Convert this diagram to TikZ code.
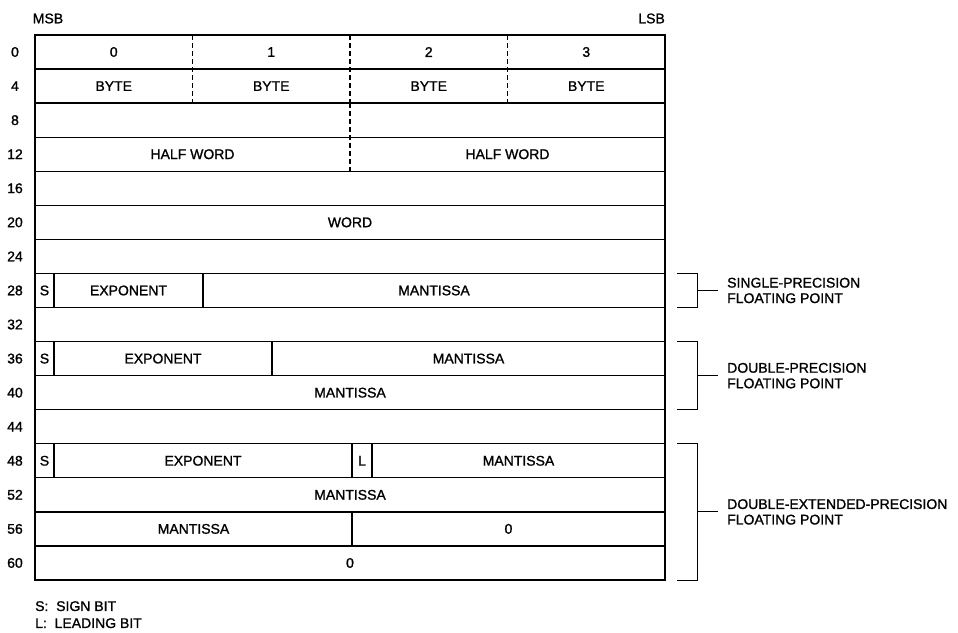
\documentclass[tikz,border=0pt]{standalone}
\usepackage{fontspec}
\setmainfont[FakeBold=1.2]{Liberation Sans}
\usetikzlibrary{calc}
\begin{document}
\begin{tikzpicture}[x=1pt,y=-1pt,
  row/.style={draw, line width=1.3pt, minimum width=630pt, minimum height=34.0625pt, anchor=north west, inner sep=0pt, outer sep=0pt},
  lbl/.style={font=\fontsize{14}{16}\selectfont, inner sep=0pt},
  note/.style={font=\fontsize{14}{15.5}\selectfont, inner sep=0pt, align=left, anchor=west},
  div/.style={line width=1.3pt},
  ddiv/.style={line width=1.3pt, dash pattern=on 5pt off 3pt},
  brace/.style={line width=1pt}]
\useasboundingbox (0,0) rectangle (958,632);
\def\rh{34.0625}
% rows
\foreach \i in {0,...,15} {
  \node[row] (r\i) at (35,{35+\i*\rh}) {};
  \pgfmathtruncatemacro\v{4*\i}
  \node[lbl] (n\i) at (15,{35+(\i+0.5)*\rh}) {\v};
}
\node[lbl] (msb) at (48,18.5) {MSB};
\node[lbl,anchor=east] (lsb) at (665,18.5) {LSB};
% dashed dividers
\foreach \x in {192.5,350,507.5} \draw[ddiv] (\x,{35}) -- (\x,{35+2*\rh});
\draw[ddiv] (350,{35+2*\rh}) -- (350,{35+4*\rh});
% solid dividers
\foreach \x/\r in {54/7,203/7,54/9,272/9,54/12,352/12,372/12,352/14}
  \draw[div] (\x,{35+\r*\rh}) -- (\x,{35+(\r+1)*\rh});
% texts
\foreach \x/\t [count=\k] in {113.75/0,271.25/1,428.75/2,586.25/3}
  \node[lbl] (b\k) at (\x,{35+0.5*\rh}) {\t};
\foreach \x [count=\k] in {113.75,271.25,428.75,586.25}
  \node[lbl] (by\k) at (\x,{35+1.5*\rh}) {BYTE};
\node[lbl] (hw1) at (192.5,{35+3.5*\rh}) {HALF WORD};
\node[lbl] (hw2) at (507.5,{35+3.5*\rh}) {HALF WORD};
\node[lbl] (word) at (350,{35+5.5*\rh}) {WORD};
\node[lbl] (s1) at (44.5,{35+7.5*\rh}) {S};
\node[lbl] (e1) at (128.5,{35+7.5*\rh}) {EXPONENT};
\node[lbl] (m1) at (434,{35+7.5*\rh}) {MANTISSA};
\node[lbl] (s2) at (44.5,{35+9.5*\rh}) {S};
\node[lbl] (e2) at (163,{35+9.5*\rh}) {EXPONENT};
\node[lbl] (m2) at (468.5,{35+9.5*\rh}) {MANTISSA};
\node[lbl] (m3) at (350,{35+10.5*\rh}) {MANTISSA};
\node[lbl] (s3) at (44.5,{35+12.5*\rh}) {S};
\node[lbl] (e3) at (203,{35+12.5*\rh}) {EXPONENT};
\node[lbl] (l3) at (362,{35+12.5*\rh}) {L};
\node[lbl] (m4) at (518.5,{35+12.5*\rh}) {MANTISSA};
\node[lbl] (m5) at (350,{35+13.5*\rh}) {MANTISSA};
\node[lbl] (m6) at (193.5,{35+14.5*\rh}) {MANTISSA};
\node[lbl] (z1) at (508.5,{35+14.5*\rh}) {0};
\node[lbl] (z2) at (350,{35+15.5*\rh}) {0};
% braces
\foreach \a/\b/\n in {7/8/sp,9/11/dp,12/16/xp} {
  \coordinate (\n t) at (697,{35+\a*\rh});
  \coordinate (\n b) at (697,{35+\b*\rh});
  \coordinate (\n m) at (697,{35+(\a+\b)/2*\rh});
  \draw[brace] ($(\n t)+(-20,0)$) -- (\n t) -- (\n b) -- ($(\n b)+(-20,0)$);
  \coordinate (\n e) at ($(\n m)+(21,0)$);
  \draw[brace] (\n m) -- (\n e);
}
\node[note] (spl) at ($(spe)+(9,0)$) {SINGLE-PRECISION\\FLOATING POINT};
\node[note] (dpl) at ($(dpe)+(9,0)$) {DOUBLE-PRECISION\\FLOATING POINT};
\node[note] (xpl) at ($(xpe)+(9,0)$) {DOUBLE-EXTENDED-PRECISION\\FLOATING POINT};
% footnote
\node[note, font=\fontsize{14}{17}\selectfont, anchor=north west] (fn) at (35,601) {S:\ \ SIGN BIT\\L:\ \ LEADING BIT};
\end{tikzpicture}
\end{document}
